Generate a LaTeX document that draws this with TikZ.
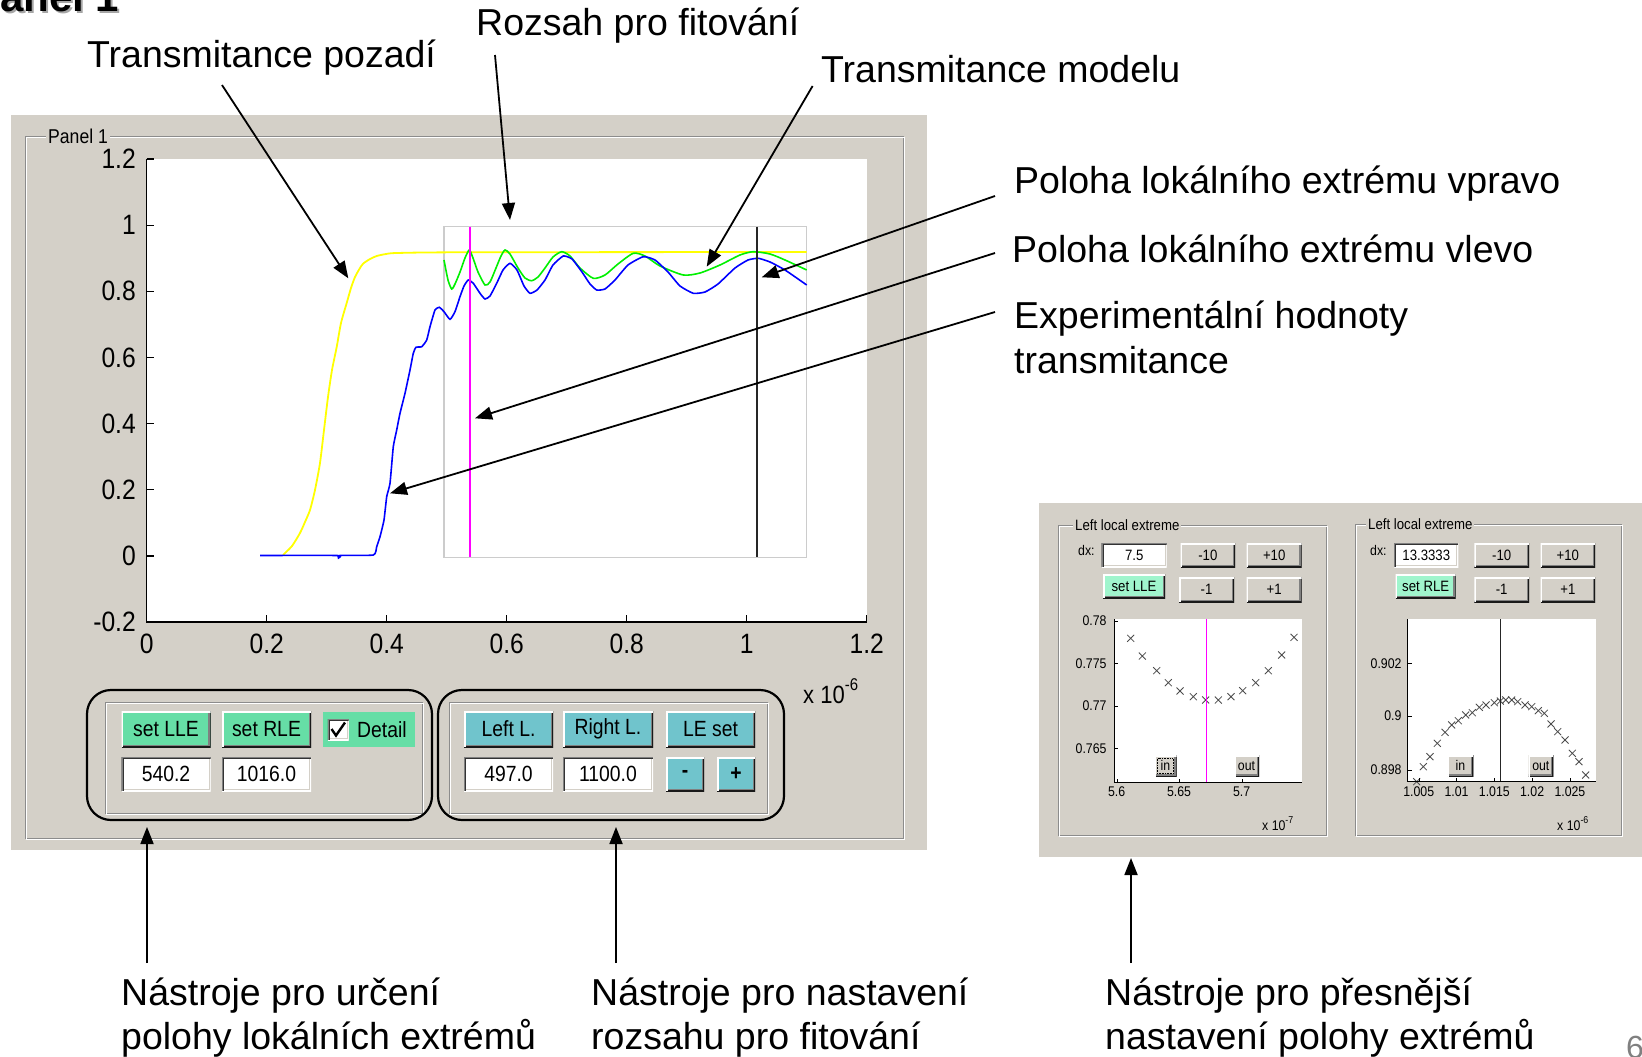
\documentclass[tikz,border=0pt]{standalone}
\usepackage{fontspec}
\setmainfont{Liberation Sans}
\newfontfamily\gui[FakeStretch=0.88]{Liberation Sans}
\usetikzlibrary{arrows.meta}
\newcommand\fs[2]{\fontsize{#1}{#2}\selectfont}
\newcommand\wdg[7]{\node[#1,minimum width={#5-#3},minimum height={#6-#4},inner sep=0pt,outer sep=0pt] (#2) at ({(#3+#5)/2},{(#4+#6)/2}) {#7};}
\definecolor{pg}{RGB}{212,208,200}
\definecolor{bgreen}{RGB}{102,222,166}
\definecolor{bteal}{RGB}{112,196,204}
\definecolor{lgreen}{RGB}{160,245,205}
\definecolor{ycol}{RGB}{255,255,0}
\definecolor{gcol}{RGB}{0,240,0}
\definecolor{bcol}{RGB}{0,0,255}
\definecolor{mcol}{RGB}{255,0,255}
\begin{document}
\begin{tikzpicture}[x=1pt,y=-1pt,
  lab/.style={font=\fs{37.5}{45},inner sep=0pt,anchor=base west},
  arr/.style={line width=1.8pt,-{Triangle[length=17pt,width=13pt]}},
  raised/.style={path picture={
    \path (path picture bounding box.south west) coordinate (ppsw)
          (path picture bounding box.north east) coordinate (ppne);
    \draw[line width=5pt,black!50] (ppsw) -| (ppne);
    \draw[line width=2pt,black!90] (ppsw) -| (ppne);
    \draw[line width=3pt,white] (ppsw) |- (ppne);}},
  sunken/.style={fill=white,path picture={
    \path (path picture bounding box.south west) coordinate (ppsw)
          (path picture bounding box.north east) coordinate (ppne);
    \draw[line width=4pt,pg] (ppsw) -| (ppne);
    \draw[line width=2pt,white] (ppsw) -| (ppne);
    \draw[line width=4pt,black!80] (ppsw) |- (ppne);
    \draw[line width=2pt,black!50] (ppsw) |- (ppne);}},
  mbtn/.style={raised,font=\gui\fs{22}{24}},
  medit/.style={sunken,font=\gui\fs{22}{24}},
  dbtn/.style={raised,fill=pg,font=\gui\fs{15}{18}},
  dedit/.style={sunken,font=\gui\fs{15}{18}},
  tk/.style={font=\gui\fs{28}{30},inner sep=0pt},
  dtk/.style={font=\gui\fs{14}{16},inner sep=0pt},
  grp/.style={fill=pg,inner sep=2pt,font=\gui\fs{15}{18}},
  crs/.style={line width=0.8pt,black!70},
  etch/.style={line width=1pt}
]
\useasboundingbox (0,0) rectangle (1642,1057);
\fill[white] (0,0) rectangle (1642,1057);

% partial slide title
\node[font=\bfseries\fs{42}{50},text=black!35,anchor=base west,inner sep=0pt] (ttlsh) at (-26,14) {Panel 1};
\node[font=\bfseries\fs{42}{50},anchor=base west,inner sep=0pt] (ttl) at (-28,12) {Panel 1};

% ===== main panel =====
\fill[pg] (10.5,115) rectangle (927,850);
\draw[etch,black!45] (25,136) rectangle (903,838);
\draw[etch,white] (26,137) rectangle (904,839);
\node[grp,anchor=west,font=\gui\fs{20}{22}] (pnl) at (46,136) {Panel 1};

% plot
\fill[white] (146.7,159) rectangle (866.7,622);
\draw[line width=1.5pt,black!20] (444,226.7) rectangle (806.7,557.3);
\draw[ycol,line width=1.8pt] plot[smooth,tension=0.4] coordinates {(283,555) (292,546) (300,533) (305,522) (310,510) (315,490) (320,463) (324,430) (328,397) (332,370) (336.7,347) (341,323) (346.7,303) (351,288) (355,277) (360,268) (363.3,263.5) (370,259) (376.7,256) (386,254) (397,253) (460,252.3) (806.7,252)};
\draw[gcol,line width=1.6pt] plot[smooth,tension=0.4] coordinates {(444,260) (448,280) (451.7,289) (455,284) (460,272) (465,258) (469.3,250) (473,258) (478,272) (485,285) (490,282) (496,268) (501,256) (505,250) (510,254) (518,268) (525,278) (531.7,280.7) (538,277) (545,268) (553,257) (561.7,251.7) (570,256) (580,268) (593.3,278.3) (605,275) (618,264) (633.3,253.3) (645,256) (660,266) (683.3,275) (700,273) (720,265) (740,255) (753.3,251.7) (770,254) (785,260) (806.7,270)};
\draw[bcol,line width=1.6pt] plot[smooth,tension=0.3] coordinates {(260,555.5) (337,555.5) (338.5,558) (340,555.5) (373.3,555) (376.7,546.7) (380,536.7) (384,520) (386.7,496.7) (390,483.3) (393.3,446.7) (396.7,430) (400,413.3) (405,393.3) (410,370) (413.3,353.3) (416,347.3) (421.7,346.7) (426.7,340) (430,326.7) (435,310) (439.3,307.3) (444,311.7) (450,319.3) (455,311.7) (460,296.7) (464,286) (468.3,280) (473.3,283.3) (480,293.3) (485,299) (490,296) (496.7,283.3) (503,270) (510,263.3) (517,270) (524,286) (530,293.3) (537,290) (545,280) (553,265) (563.3,256) (572,259) (582,272) (590,284) (596.7,290) (605,289) (615,280) (628,265) (643.3,256.7) (655,260) (668,272) (680,286) (693.3,293.3) (705,292) (718,284) (735,268) (748,260) (758.3,258.3) (770,262) (785,270) (806.7,285)};
\draw[mcol,line width=1.6pt] (470,226.7) -- (470,557.3);
\draw[black!85,line width=1.6pt] (756.7,226.7) -- (756.7,557.3);
\draw[line width=1.5pt] (146.7,159) -- (146.7,622) -- (866.7,622);
\foreach \k/\lbl in {0/-0.2,1/0,2/0.2,3/0.4,4/0.6,5/0.8,6/1,7/1.2}{
  \draw[line width=1.3pt] (146.7,{622-\k*66.14}) -- ++(7,0);
  \node[tk,anchor=east] (yl\k) at (136,{622-\k*66.14}) {\lbl};}
\foreach \k/\lbl in {0/0,1/0.2,2/0.4,3/0.6,4/0.8,5/1,6/1.2}{
  \draw[line width=1.3pt] ({146.7+\k*120},622) -- ++(0,-7);
  \node[tk,anchor=north] (xl\k) at ({146.7+\k*120},634) {\lbl};}
\node[font=\gui\fs{25}{27},anchor=base west,inner sep=0pt] (xexp) at (803,703) {x 10\raisebox{13pt}{\fs{17}{18}-6}};

% bottom sub-panels
\draw[etch,black!45] (105,702) rectangle (422,813);
\draw[etch,white] (106,703) rectangle (423,814);
\draw[etch,black!45] (449,702) rectangle (767,813);
\draw[etch,white] (450,703) rectangle (768,814);
\wdg{mbtn,fill=bgreen}{bLLE}{121.5}{711}{210.5}{747}{set LLE}
\wdg{mbtn,fill=bgreen}{bRLE}{222}{711}{311}{747}{set RLE}
\wdg{fill=bgreen}{bDet}{322.5}{712}{414.7}{747}{}
\wdg{sunken}{cbox}{327.8}{719.4}{348.7}{740.4}{}
\draw[line width=2.4pt] (331.5,729) -- (336,735.5) -- (345,722.5);
\node[font=\gui\fs{22}{24},anchor=west,inner sep=0pt] (tDet) at (357,729.5) {Detail};
\wdg{medit}{eLLE}{121.5}{757}{210.5}{791}{540.2}
\wdg{medit}{eRLE}{222}{757}{311}{791}{1016.0}
\wdg{mbtn,fill=bteal}{bLL}{464}{711}{553}{747}{Left L.}
\wdg{mbtn,fill=bteal}{bRL}{563}{711}{653}{747}{Right L.}
\wdg{mbtn,fill=bteal}{bLE}{666}{711}{755}{747}{LE set}
\wdg{medit}{eLL}{464}{757}{553}{791}{497.0}
\wdg{medit}{eRL}{563}{757}{653}{791}{1100.0}
\wdg{mbtn,fill=bteal}{bmin}{666}{757}{704}{791}{\textbf{-}}
\wdg{mbtn,fill=bteal}{bplus}{717}{757}{755}{791}{\textbf{+}}
\draw[line width=2.2pt,rounded corners=24pt] (87,690) rectangle (432,820);
\draw[line width=2.2pt,rounded corners=24pt] (438,690) rectangle (784,820);

% ===== detail panels =====
\fill[pg] (1039,503) rectangle (1642,857);
% panel A
\draw[etch,black!45] (1058.3,525) rectangle (1326.7,835);
\draw[etch,white] (1059.3,526) rectangle (1327.7,836);
\node[grp,anchor=west] (gA) at (1073,525) {Left local extreme};
\node[dtk,anchor=base west] (dxA) at (1078,555) {dx:};
\wdg{dedit}{d1e}{1101.7}{543}{1166.7}{567}{7.5}
\wdg{dbtn}{d1m10}{1180.7}{543}{1235}{567}{-10}
\wdg{dbtn}{d1p10}{1246.7}{543}{1301.7}{567}{+10}
\wdg{raised,fill=lgreen,font=\gui\fs{15}{18}}{d1set}{1103}{574}{1165}{598}{set LLE}
\wdg{dbtn}{d1m1}{1179}{577}{1234}{602}{-1}
\wdg{dbtn}{d1p1}{1246.7}{577}{1301.7}{602}{+1}
\fill[white] (1114,619.3) rectangle (1301.7,782.7);
\foreach \x/\y in {1130.7/638.3,1142.3/656,1156.7/670.7,1168.3/682.7,1180/691,1193.3/696.7,1205.7/700,1218.3/700,1231/696.7,1242.7/690.7,1255.7/682.7,1268.3/670.7,1281.7/655,1294/637.3}
  \draw[crs] (\x-3.5,\y-3.5) -- (\x+3.5,\y+3.5) (\x-3.5,\y+3.5) -- (\x+3.5,\y-3.5);
\draw[mcol,line width=1.3pt] (1206.7,619.3) -- (1206.7,782.7);
\draw[line width=1pt] (1114,619.3) -- (1114,782.7) -- (1301.7,782.7);
\foreach \y/\lbl [count=\i] in {620.7/0.78,663.3/0.775,705.7/0.77,748.3/0.765}{
  \draw (1114,\y) -- ++(4,0);
  \node[dtk,anchor=east] (ayl\i) at (1106.7,\y) {\lbl};}
\foreach \x/\lbl [count=\i] in {1116.7/5.6,1179/5.65,1241.7/5.7}{
  \draw (\x,782.7) -- ++(0,-4);
  \node[dtk,anchor=north] (axl\i) at (\x,787) {\lbl};}
\wdg{raised,fill=pg,font=\gui\fs{14}{16}}{d1in}{1154}{755}{1176.7}{776.7}{in}
\draw[densely dotted,line width=0.6pt] (1157.5,758.5) rectangle (1173,773.5);
\wdg{raised,fill=pg,font=\gui\fs{14}{16}}{d1out}{1234}{755}{1259}{776.7}{out}
\node[dtk,anchor=base west] (aexp) at (1262,830) {x 10\raisebox{7pt}{\fs{10}{12}-7}};

% panel B
\draw[etch,black!45] (1355.7,524) rectangle (1621,835);
\draw[etch,white] (1356.7,525) rectangle (1622,836);
\node[grp,anchor=west] (gB) at (1366,524) {Left local extreme};
\node[dtk,anchor=base west] (dxB) at (1370,555) {dx:};
\wdg{dedit}{d2e}{1394.3}{543}{1458.3}{567}{13.3333}
\wdg{dbtn}{d2m10}{1474.3}{543}{1529}{567}{-10}
\wdg{dbtn}{d2p10}{1540.7}{543}{1595}{567}{+10}
\wdg{raised,fill=lgreen,font=\gui\fs{15}{18}}{d2set}{1395.7}{574}{1455.7}{598}{set RLE}
\wdg{dbtn}{d2m1}{1474.3}{577}{1529}{602}{-1}
\wdg{dbtn}{d2p1}{1540.7}{577}{1595}{602}{+1}
\fill[white] (1407.7,619.3) rectangle (1596,781.7);
\foreach \x/\y in {1416.7/781.7,1423.3/766.7,1430/756.7,1437.3/743.3,1445/732.3,1451.7/725,1458.3/720.7,1465.7/715,1472.3/712.7,1479.3/707.3,1486/705,1494.3/702.7,1500.3/701,1505.7/700,1511.7/700,1517.7/701.7,1525/705,1531.7/706.7,1538.3/710.7,1544.3/713.3,1551/724,1557.7/731.7,1565/740,1572.3/753.3,1579/761.7,1585.7/775}
  \draw[crs] (\x-3.5,\y-3.5) -- (\x+3.5,\y+3.5) (\x-3.5,\y+3.5) -- (\x+3.5,\y-3.5);
\draw[black!85,line width=1.3pt] (1500.7,619.3) -- (1500.7,781.7);
\draw[line width=1pt] (1407.7,619.3) -- (1407.7,781.7) -- (1596,781.7);
\foreach \y/\lbl [count=\i] in {663.3/0.902,716/0.9,770/0.898}{
  \draw (1407.7,\y) -- ++(4,0);
  \node[dtk,anchor=east] (byl\i) at (1401.7,\y) {\lbl};}
\foreach \k/\lbl in {0/1.005,1/1.01,2/1.015,3/1.02,4/1.025}{
  \draw ({1418.7+\k*37.8},781.7) -- ++(0,-4);
  \node[dtk,anchor=north] (bxl\k) at ({1418.7+\k*37.8},787) {\lbl};}
\wdg{raised,fill=pg,font=\gui\fs{14}{16}}{d2in}{1447.7}{755}{1473.3}{776.7}{in}
\wdg{raised,fill=pg,font=\gui\fs{14}{16}}{d2out}{1528.3}{755}{1553.3}{776.7}{out}
\node[dtk,anchor=base west] (bexp) at (1557,830) {x 10\raisebox{7pt}{\fs{10}{12}-6}};

% ===== labels =====
\node[lab] (tpoz) at (87,67) {Transmitance pozadí};
\node[lab] (rozs) at (476,36) {Rozsah pro fitování};
\node[lab] (tmod) at (821,83) {Transmitance modelu};
\node[lab] (lvp) at (1014,193) {Poloha lokálního extrému vpravo};
\node[lab] (lvl) at (1012,262) {Poloha lokálního extrému vlevo};
\node[lab] (exa) at (1014,328) {Experimentální hodnoty};
\node[lab] (exb) at (1014,373) {transmitance};
\node[lab] (n1a) at (121,1005) {Nástroje pro určení};
\node[lab] (n1b) at (121,1049) {polohy lokálních extrémů};
\node[lab] (n2a) at (591,1005) {Nástroje pro nastavení};
\node[lab] (n2b) at (591,1049) {rozsahu pro fitování};
\node[lab] (n3a) at (1105,1005) {Nástroje pro přesnější};
\node[lab] (n3b) at (1105,1049) {nastavení polohy extrémů};
\node[font=\fs{32}{36},text=black!50,anchor=base west,inner sep=0pt] (pgno) at (1626,1058) {6};

% ===== arrows =====
\coordinate (a1s) at (222,85);    \coordinate (a1e) at (348.3,278.3);
\coordinate (a2s) at (495,55);    \coordinate (a2e) at (510,220);
\coordinate (a3s) at (812.6,86);  \coordinate (a3e) at (706.7,266.7);
\coordinate (a4s) at (995,196);   \coordinate (a4e) at (761.7,277.3);
\coordinate (a5s) at (995,253);   \coordinate (a5e) at (475,418.3);
\coordinate (a6s) at (995,312);   \coordinate (a6e) at (390,493.3);
\coordinate (b1s) at (147,963);   \coordinate (b1e) at (147,827);
\coordinate (b2s) at (616,963);   \coordinate (b2e) at (616,827);
\coordinate (b3s) at (1131,963);  \coordinate (b3e) at (1131,858);
\foreach \n in {a1,a2,a3,a4,a5,a6,b1,b2,b3}
  \draw[arr] (\n s) -- (\n e);
\end{tikzpicture}
\end{document}
